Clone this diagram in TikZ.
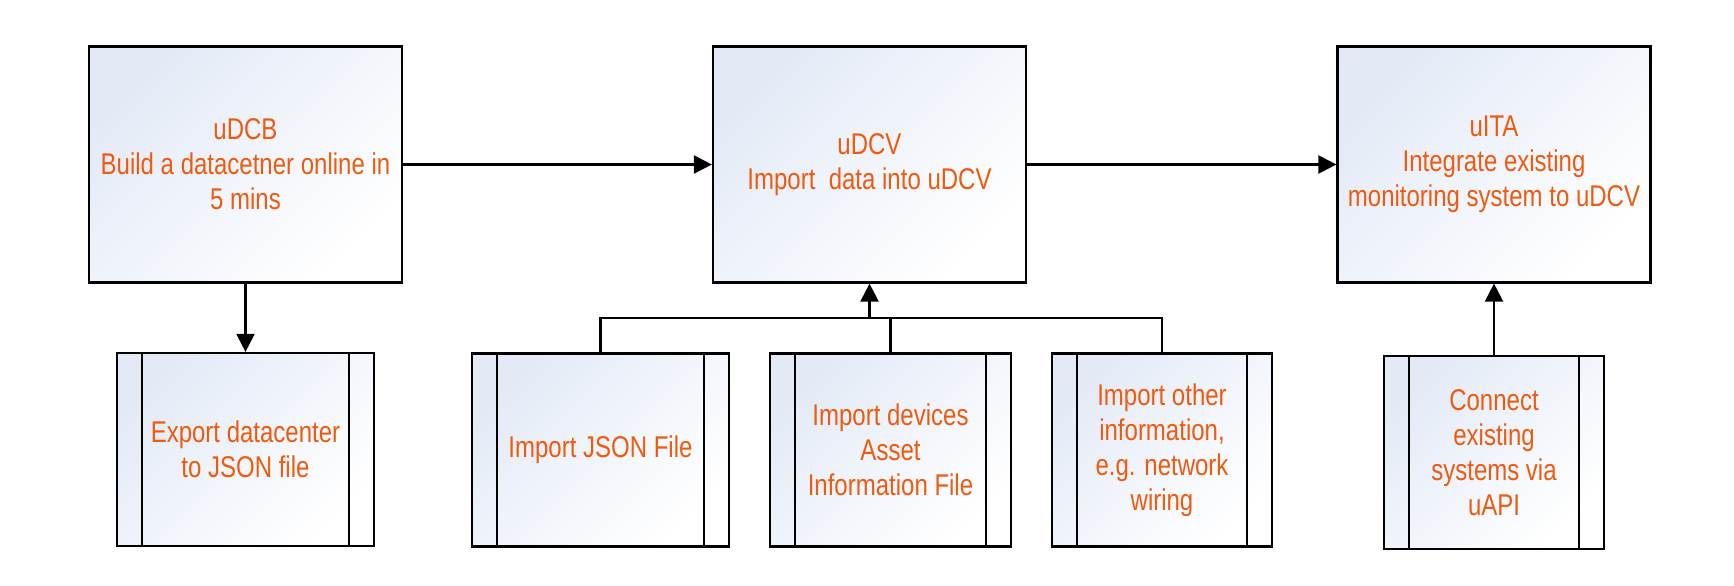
\documentclass[tikz,border=0pt]{standalone}
\usepackage{fontspec}
\setmainfont{Liberation Sans}[FakeStretch=0.8]
\usetikzlibrary{arrows.meta}
\definecolor{boxblue}{HTML}{E3EAF6}
\definecolor{labelorange}{HTML}{F05A0F}
\begin{document}
\begin{tikzpicture}
  [x=1pt,y=-1pt,
   every node/.style={draw,line width=2.2pt,align=center,text=labelorange,
     font=\fontsize{30}{35}\selectfont,inner sep=0pt,
     top color=boxblue,bottom color=white,shading angle=45},
   stage/.style={minimum width=313pt,minimum height=236pt},
   sub/.style={minimum width=#1,minimum height=193pt,
     path picture={\draw[line width=2.2pt]
       ([xshift=25pt]path picture bounding box.north west) -- ([xshift=25pt]path picture bounding box.south west)
       ([xshift=-25pt]path picture bounding box.north east) -- ([xshift=-25pt]path picture bounding box.south east);}},
   link/.style={line width=2.2pt,-{Triangle[length=18pt,width=18pt]}}]
  \useasboundingbox (0,0) rectangle (1734,586);

  \node[stage] (udcb) at (245.5,164.5) {uDCB\\Build a datacetner online in\\5 mins};
  \node[stage] (udcv) at (869.5,164.5) {uDCV\\Import\ \ data into uDCV};
  \node[stage] (uita) at (1494,164.5) {uITA\\Integrate existing\\monitoring system to uDCV};

  \node[sub=257pt] (export) at (245.5,449.5) {Export datacenter\\to JSON file};
  \node[sub=257pt] (json) at (600.5,450) {Import JSON File};
  \node[sub=241pt] (devices) at (890.5,450) {Import devices\\Asset\\Information File};
  \node[sub=220pt] (other) at (1162,450) {Import other\\information,\\e.g. network\\wiring};
  \node[sub=220pt] (connect) at (1494,452.5) {Connect\\existing\\systems via\\uAPI};

  \coordinate (bus) at (869.5,318);

  \foreach \from/\to in {udcb/udcv,udcv/uita,udcb/export,connect/uita}
    \draw[link] (\from) -- (\to);
  \draw[line width=2.2pt] (json.north) |- (bus) -| (other.north);
  \draw[line width=2.2pt] (devices.north) -- (devices.north |- bus);
  \draw[link] (bus) -- (udcv.south);

\end{tikzpicture}
\end{document}
